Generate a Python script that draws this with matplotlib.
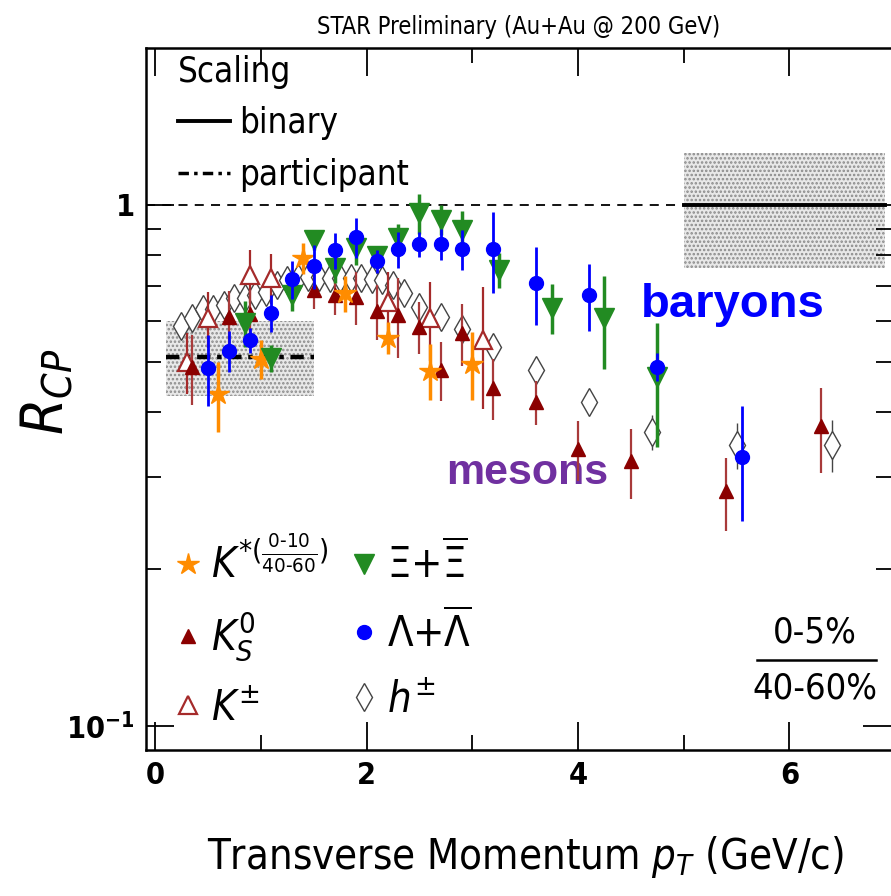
import numpy as np
import matplotlib.pyplot as plt
from matplotlib.lines import Line2D
from matplotlib.ticker import MultipleLocator, FixedLocator, NullFormatter

plt.rcParams['font.family'] = ['DejaVu Sans']
plt.rcParams['font.stretch'] = 'condensed'
plt.rcParams['mathtext.fontset'] = 'custom'
plt.rcParams['mathtext.rm'] = 'DejaVu Sans:stretch=condensed'
plt.rcParams['mathtext.it'] = 'DejaVu Sans:italic:stretch=condensed'
plt.rcParams['mathtext.bf'] = 'DejaVu Sans:bold:stretch=condensed'
plt.rcParams['hatch.linewidth'] = 1.2

# ---- data ----
# Lambda + anti-Lambda
lam_pt = [0.5, 0.7, 0.9, 1.1, 1.3, 1.5, 1.7, 1.9, 2.1, 2.3, 2.5, 2.7, 2.9, 3.2, 3.6, 4.1, 4.75, 5.55]
lam_rcp = [0.487, 0.525, 0.551, 0.621, 0.721, 0.764, 0.820, 0.868, 0.781, 0.823, 0.842, 0.842, 0.823,
           0.823, 0.709, 0.672, 0.489, 0.329]
lam_err = [0.075, 0.047, 0.03, 0.05, 0.06, 0.075, 0.065, 0.077, 0.04, 0.066, 0.047, 0.057, 0.072,
           0.145, 0.12, 0.10, 0.03, 0.082]

# Xi + anti-Xi
xi_pt = [0.85, 1.1, 1.3, 1.5, 1.7, 1.9, 2.1, 2.3, 2.5, 2.7, 2.9, 3.25, 3.75, 4.25, 4.75]
xi_rcp = [0.594, 0.509, 0.672, 0.857, 0.757, 0.827, 0.798, 0.865, 0.965, 0.936, 0.896, 0.751, 0.635,
          0.607, 0.468]
xi_err = [0.06, 0.03, 0.047, 0.038, 0.048, 0.06, 0.03, 0.054, 0.084, 0.062, 0.076, 0.057, 0.07,
          0.123, 0.125]

# K*
kstar_pt = [0.6, 1.0, 1.4, 1.8, 2.2, 2.6, 3.0]
kstar_rcp = [0.433, 0.507, 0.792, 0.678, 0.556, 0.481, 0.496]
kstar_err = [0.067, 0.043, 0.055, 0.054, 0.039, 0.059, 0.074]

# K0s
k0s_pt = [0.35, 0.7, 0.9, 1.5, 1.7, 1.9, 2.1, 2.3, 2.5, 2.7, 2.9, 3.2, 3.6, 4.0, 4.5, 5.4, 6.3]
k0s_rcp = [0.489, 0.610, 0.618, 0.687, 0.672, 0.666, 0.626, 0.616, 0.584, 0.483, 0.569, 0.446,
           0.419, 0.340, 0.322, 0.282, 0.376]
k0s_err = [0.075, 0.075, 0.07, 0.055, 0.058, 0.078, 0.076, 0.107, 0.067, 0.063, 0.078, 0.06,
           0.041, 0.045, 0.049, 0.045, 0.07]

# K+-
kch_pt = [0.3, 0.5, 0.9, 1.1, 2.2, 2.6, 3.1]
kch_rcp = [0.500, 0.607, 0.734, 0.725, 0.652, 0.607, 0.551]
kch_err = [0.067, 0.075, 0.085, 0.08, 0.093, 0.105, 0.145]

# h+-
h_pt = [0.25, 0.35, 0.45, 0.55, 0.65, 0.75, 0.85, 0.95, 1.05, 1.15, 1.25, 1.35, 1.45, 1.55, 1.65,
        1.75, 1.85, 1.95, 2.05, 2.15, 2.25, 2.35, 2.5, 2.7, 2.9, 3.2, 3.6, 4.1, 4.7, 5.5, 6.4]
h_rcp = [0.586, 0.607, 0.632, 0.632, 0.643, 0.664, 0.664, 0.672, 0.681, 0.703, 0.718, 0.725, 0.728,
         0.728, 0.725, 0.725, 0.725, 0.725, 0.722, 0.718, 0.703, 0.678, 0.638, 0.610, 0.579, 0.535,
         0.483, 0.418, 0.367, 0.347, 0.347]
h_err = [0.02] * 28 + [0.028, 0.035, 0.04]

# scaling expectations
binary_level = 1.0
binary_pt = [5.0, 6.9]
binary_band = [0.757, 1.258]
part_level = 0.51
part_pt = [0.1, 1.5]
part_band = [0.43, 0.60]

# ---- figure ----
fig = plt.figure(figsize=(8.91, 8.96), dpi=100)
ax = fig.add_axes([0.1639, 0.1629, 0.8361, 0.7835])
ax.set_yscale('log')
ax.set_xlim(-0.085, 6.96)
ax.set_ylim(0.09, 2.0)

# bands and scaling lines
ax.fill_between(binary_pt, binary_band[0], binary_band[1], facecolor='#e8e8e8',
                edgecolor='#8a8a8a', hatch='....', linewidth=0, zorder=1)
ax.fill_between(part_pt, part_band[0], part_band[1], facecolor='#e8e8e8',
                edgecolor='#8a8a8a', hatch='....', linewidth=0, zorder=1)
ax.hlines(binary_level, ax.get_xlim()[0], binary_pt[0], colors='k', linestyles=(0, (5, 4)),
          linewidth=1.3, zorder=2)
ax.plot(binary_pt, [binary_level] * 2, color='k', lw=2.8, zorder=2)
ax.plot(part_pt, [part_level] * 2, color='k', lw=3.2, ls=(0, (3, 1.5, 1, 1.5)), zorder=2)

# data
ax.errorbar(h_pt, h_rcp, yerr=h_err, fmt='d', ms=14, mfc='white', mec='#444444', mew=1.0,
            ecolor='#444444', elinewidth=1.0, zorder=3)
ax.errorbar(kch_pt, kch_rcp, yerr=kch_err, fmt='^', ms=13, mfc='white', mec='#a52a2a', mew=1.6,
            ecolor='#a52a2a', elinewidth=1.6, zorder=4)
ax.errorbar(k0s_pt, k0s_rcp, yerr=k0s_err, fmt='^', ms=10, color='#8b0000', ecolor='#a83a3a',
            elinewidth=1.6, zorder=4)
ax.errorbar(kstar_pt, kstar_rcp, yerr=kstar_err, fmt='*', ms=16, color='#ff8c00',
            elinewidth=2.5, zorder=5)
ax.errorbar(xi_pt, xi_rcp, yerr=xi_err, fmt='v', ms=15, color='#228b22', elinewidth=2.5, zorder=5)
ax.errorbar(lam_pt, lam_rcp, yerr=lam_err, fmt='o', ms=10, color='#0000ff', elinewidth=2.0, zorder=6)

# axes styling
ax.spines['right'].set_visible(False)
for s in ['left', 'bottom', 'top']:
    ax.spines[s].set_linewidth(1.8)
ax.xaxis.set_major_locator(MultipleLocator(2))
ax.xaxis.set_minor_locator(MultipleLocator(1))
ax.yaxis.set_major_locator(FixedLocator([0.1, 1]))
ax.yaxis.set_minor_locator(FixedLocator([0.2, 0.3, 0.4, 0.5, 0.6, 0.7, 0.8, 0.9]))
ax.yaxis.set_minor_formatter(NullFormatter())
ax.set_yticklabels(['10$^{\\mathbf{-1}}$', '1'])
ax.tick_params(which='both', direction='in', top=True, right=True, width=1.3)
ax.tick_params(which='major', length=20, labelsize=22, pad=8)
ax.tick_params(which='minor', length=11)
for lab in ax.get_xticklabels() + ax.get_yticklabels():
    lab.set_fontweight('bold')

ax.set_title('STAR Preliminary (Au+Au @ 200 GeV)', fontsize=17, pad=10)
ax.set_xlabel('Transverse Momentum $p_{T}$ (GeV/c)', fontsize=30)
ax.xaxis.set_label_coords(0.509, -0.12)
ax.set_ylabel('$R_{CP}$', fontsize=42)
ax.yaxis.set_label_coords(-0.095, 0.51)

# scaling legend
scale_handles = [Line2D([], [], color='k', lw=2.8),
                 Line2D([], [], color='k', lw=2.5, ls=(0, (3, 1.5, 1, 1.5)))]
leg1 = ax.legend(scale_handles, ['binary', 'participant'], title='Scaling', loc='upper left',
                 bbox_to_anchor=(0.043, 0.99), frameon=False, fontsize=25, title_fontsize=25,
                 handlelength=1.5, handletextpad=0.25, labelspacing=0.5, borderpad=0,
                 borderaxespad=0, alignment='left')
ax.add_artist(leg1)

# species legend
sp_handles = [Line2D([], [], ls='none', marker='*', ms=16, color='#ff8c00'),
              Line2D([], [], ls='none', marker='^', ms=10, color='#8b0000'),
              Line2D([], [], ls='none', marker='^', ms=13, mfc='white', mec='#a52a2a', mew=1.6),
              Line2D([], [], ls='none', marker='v', ms=15, color='#228b22'),
              Line2D([], [], ls='none', marker='o', ms=10, color='#0000ff'),
              Line2D([], [], ls='none', marker='d', ms=14, mfc='white', mec='#444444', mew=1.0)]
sp_labels = [r'$K^{*(\frac{\text{0-10}}{\text{40-60}})}$', r'$K^{0}_{S}$', r'$K^{\pm}$',
             r'$\Xi$+$\overline{\Xi}$', r'$\Lambda$+$\overline{\Lambda}$', r'$h^{\pm}$']
ax.legend(sp_handles, sp_labels, ncol=2, loc='lower left', bbox_to_anchor=(0.034, 0.03),
          frameon=False, fontsize=30, handlelength=0.8, handletextpad=0.15, labelspacing=0.55,
          columnspacing=0.45, borderpad=0, borderaxespad=0)

# annotations
ax.text(0.788, 0.634, 'baryons', transform=ax.transAxes, color='#0000ff', fontsize=34,
        fontweight='bold', family=['Liberation Sans', 'DejaVu Sans'], stretch='normal',
        ha='center', va='center')
ax.text(0.511, 0.395, 'mesons', transform=ax.transAxes, color='#7030a0', fontsize=31,
        fontweight='bold', family=['Liberation Sans', 'DejaVu Sans'], stretch='normal',
        ha='center', va='center')
ax.text(0.898, 0.167, '0-5%', transform=ax.transAxes, fontsize=26, ha='center', va='center')
ax.plot([0.82, 0.98], [0.128, 0.128], transform=ax.transAxes, color='k', lw=1.8)
ax.text(0.898, 0.088, '40-60%', transform=ax.transAxes, fontsize=26, ha='center', va='center')

fig.savefig('out.png', dpi=100)
